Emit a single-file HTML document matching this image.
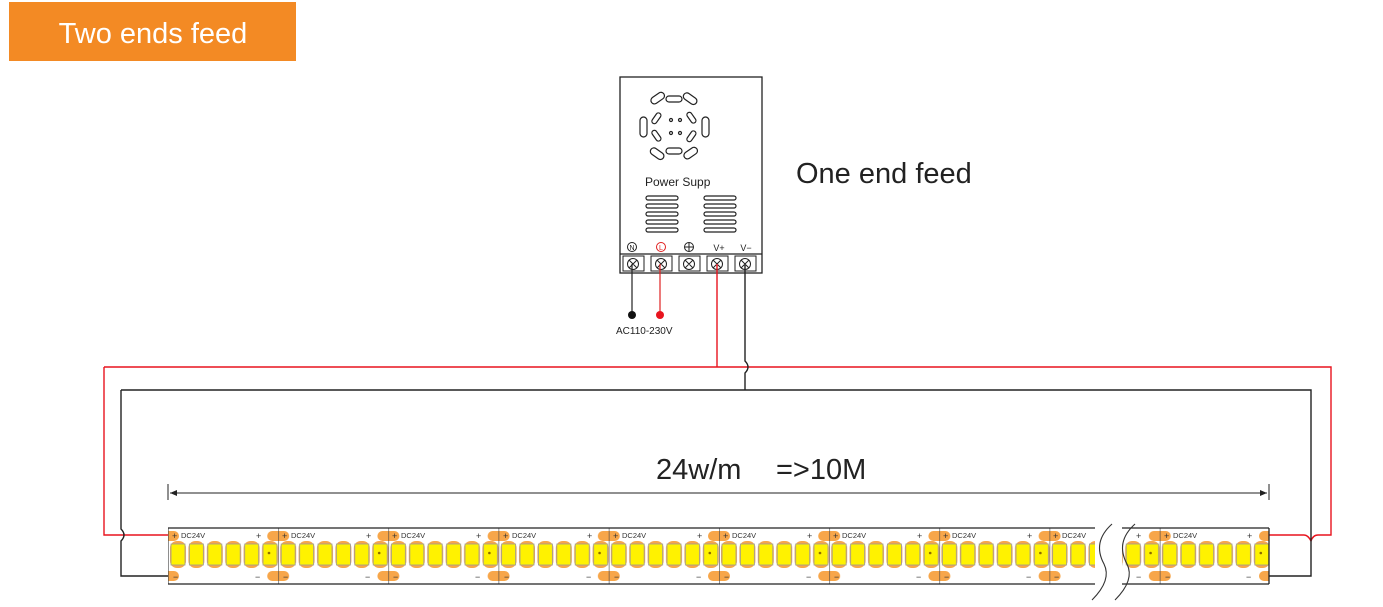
<!DOCTYPE html>
<html><head><meta charset="utf-8"><style>
html,body{margin:0;padding:0;background:#fff;}
svg{display:block;font-family:"Liberation Sans",Arial,sans-serif;}
</style></head><body>
<svg width="1383" height="607" viewBox="0 0 1383 607" xmlns="http://www.w3.org/2000/svg">
<defs>
<pattern id="seg" patternUnits="userSpaceOnUse" x="168" y="528" width="110.2" height="56">
  <rect x="-11" y="3" width="22" height="10" rx="5" fill="#f7a64a"/>
  <rect x="99.2" y="3" width="22" height="10" rx="5" fill="#f7a64a"/>
  <rect x="-11" y="43" width="22" height="10" rx="5" fill="#f7a64a"/>
  <rect x="99.2" y="43" width="22" height="10" rx="5" fill="#f7a64a"/>
  <g fill="#f7a64a">
   <rect x="2" y="13" width="16" height="27" rx="7"/><rect x="20.4" y="13" width="16" height="27" rx="7"/>
   <rect x="38.8" y="13" width="16" height="27" rx="7"/><rect x="57.2" y="13" width="16" height="27" rx="7"/>
   <rect x="75.6" y="13" width="16" height="27" rx="7"/><rect x="94" y="13" width="16" height="27" rx="7"/>
  </g>
  <g fill="#fff200" stroke="#999" stroke-width="0.8">
   <rect x="3" y="16" width="14" height="21"/><rect x="21.4" y="16" width="14" height="21"/>
   <rect x="39.8" y="16" width="14" height="21"/><rect x="58.2" y="16" width="14" height="21"/>
   <rect x="76.6" y="16" width="14" height="21"/><rect x="95" y="16" width="14" height="21"/>
  </g>
  <circle cx="101" cy="25" r="1.3" fill="#8a6a00"/>
  <line x1="0" y1="0" x2="0" y2="56" stroke="#444" stroke-width="1.2"/>
</pattern>
</defs>

<rect x="9" y="2" width="287" height="59" fill="#f38a24"/>
<text x="153" y="43" font-size="29" fill="#fff" text-anchor="middle">Two ends feed</text>

<text x="796" y="183" font-size="29" fill="#222">One end feed</text>

<!-- power supply -->
<rect x="620" y="77" width="142" height="196" fill="#fff" stroke="#222" stroke-width="1.3"/>
<g fill="none" stroke="#222" stroke-width="1.2">
 <rect x="666" y="96" width="16" height="6" rx="3"/>
 <rect x="666" y="148" width="16" height="6" rx="3"/>
 <rect x="640" y="117" width="7" height="20" rx="3.5"/>
 <rect x="702" y="117" width="7" height="20" rx="3.5"/>
 <rect x="650" y="95" width="15" height="7" rx="3.5" transform="rotate(-35 657 98)"/>
 <rect x="683" y="95" width="15" height="7" rx="3.5" transform="rotate(35 690 98)"/>
 <rect x="650" y="150" width="15" height="7" rx="3.5" transform="rotate(35 657 153)"/>
 <rect x="683" y="150" width="15" height="7" rx="3.5" transform="rotate(-35 690 153)"/>
 <rect x="654" y="112" width="5" height="12" rx="2.5" transform="rotate(35 656 118)"/>
 <rect x="689" y="112" width="5" height="12" rx="2.5" transform="rotate(-35 691 118)"/>
 <rect x="654" y="130" width="5" height="12" rx="2.5" transform="rotate(-35 656 136)"/>
 <rect x="689" y="130" width="5" height="12" rx="2.5" transform="rotate(35 691 136)"/>
 <circle cx="671" cy="120" r="1.5"/><circle cx="680" cy="120" r="1.5"/>
 <circle cx="671" cy="133" r="1.5"/><circle cx="680" cy="133" r="1.5"/>
</g>
<text x="645" y="186" font-size="12" fill="#222">Power Supp</text>
<g fill="none" stroke="#222" stroke-width="1.2">
 <rect x="646" y="196" width="32" height="4" rx="2"/><rect x="646" y="204" width="32" height="4" rx="2"/>
 <rect x="646" y="212" width="32" height="4" rx="2"/><rect x="646" y="220" width="32" height="4" rx="2"/>
 <rect x="646" y="228" width="32" height="4" rx="2"/>
 <rect x="704" y="196" width="32" height="4" rx="2"/><rect x="704" y="204" width="32" height="4" rx="2"/>
 <rect x="704" y="212" width="32" height="4" rx="2"/><rect x="704" y="220" width="32" height="4" rx="2"/>
 <rect x="704" y="228" width="32" height="4" rx="2"/>
</g>
<g font-size="9" fill="#222" text-anchor="middle">
 <circle cx="632" cy="247" r="4.5" fill="none" stroke="#222"/><text x="632" y="250" font-size="7">N</text>
 <circle cx="661" cy="247" r="4.5" fill="none" stroke="#e02020"/><text x="661" y="250" font-size="7" fill="#e02020">L</text>
 <circle cx="689" cy="247" r="4.5" fill="none" stroke="#222"/><line x1="689" y1="243" x2="689" y2="251" stroke="#222"/><line x1="685" y1="247" x2="693" y2="247" stroke="#222"/>
 <text x="719" y="251">V+</text><text x="746" y="251">V−</text>
</g>
<line x1="620" y1="254" x2="762" y2="254" stroke="#222" stroke-width="1.2"/>
<g fill="none" stroke="#222" stroke-width="1">
 <rect x="623" y="256" width="21" height="15"/><rect x="651" y="256" width="21" height="15"/>
 <rect x="679" y="256" width="21" height="15"/><rect x="707" y="256" width="21" height="15"/>
 <rect x="735" y="256" width="21" height="15"/>
 <circle cx="633" cy="264" r="5.5"/><circle cx="661" cy="264" r="5.5"/><circle cx="689" cy="264" r="5.5"/>
 <circle cx="717" cy="264" r="5.5"/><circle cx="745" cy="264" r="5.5"/>
 <path d="M629 260l8 8M637 260l-8 8M657 260l8 8M665 260l-8 8M685 260l8 8M693 260l-8 8M713 260l8 8M721 260l-8 8M741 260l8 8M749 260l-8 8"/>
</g>
<line x1="632" y1="264" x2="632" y2="314" stroke="#222" stroke-width="1.2"/>
<line x1="660" y1="264" x2="660" y2="314" stroke="#e02020" stroke-width="1.2"/>
<circle cx="632" cy="315" r="4" fill="#111"/><circle cx="660" cy="315" r="4" fill="#e8141e"/>
<text x="616" y="334" font-size="10" fill="#222">AC110-230V</text>

<!-- wires -->
<g fill="none" stroke-width="1.4">
 <path d="M717 264V367M104 367H1331V535H1318q-5 0 -7 6q-3 -6 -7 -6H1269M104 367V535H168" stroke="#e8141e"/>
 <path d="M745 264V361q6 6 0 12V390M121 390H1311V576H1269M121 390V529q6 6 0 12V576H168" stroke="#222"/>
</g>

<!-- dimension -->
<text x="656" y="479" font-size="29" fill="#222">24w/m</text>
<text x="776" y="479" font-size="29" fill="#222">=&gt;10M</text>
<g stroke="#222" stroke-width="1">
 <line x1="168" y1="484" x2="168" y2="500"/><line x1="1269" y1="484" x2="1269" y2="500"/>
 <line x1="170" y1="493" x2="1267" y2="493"/>
</g>
<path d="M170 493l7-3v6zM1267 493l-7-3v6z" fill="#222"/>

<!-- strip -->
<rect x="168" y="528" width="930" height="56" fill="url(#seg)"/>
<rect x="1120" y="528" width="149" height="56" fill="url(#seg)"/>
<g stroke="#222" stroke-width="1.3">
 <line x1="168" y1="528" x2="1098" y2="528"/><line x1="168" y1="584" x2="1098" y2="584"/>
 <line x1="1118" y1="528" x2="1269" y2="528"/><line x1="1118" y1="584" x2="1269" y2="584"/>
 <line x1="1269" y1="528" x2="1269" y2="584"/>
</g>
<rect x="1095" y="522" width="27" height="66" fill="#fff"/>
<g fill="none" stroke="#333" stroke-width="1.1">
 <path d="M1112 524q-20 18 -8 40q8 16 -12 36"/>
 <path d="M1135 524q-20 18 -8 40q8 16 -12 36"/>
</g>
<g font-size="9" fill="#333">
 <text x="172" y="539">+</text><text x="181" y="538" font-size="7.5">DC24V</text><text x="256" y="539">+</text><text x="173" y="580">−</text><text x="255" y="580">−</text>
 <text x="282" y="539">+</text><text x="291" y="538" font-size="7.5">DC24V</text><text x="366" y="539">+</text><text x="283" y="580">−</text><text x="365" y="580">−</text>
 <text x="392" y="539">+</text><text x="401" y="538" font-size="7.5">DC24V</text><text x="476" y="539">+</text><text x="393" y="580">−</text><text x="475" y="580">−</text>
 <text x="503" y="539">+</text><text x="512" y="538" font-size="7.5">DC24V</text><text x="587" y="539">+</text><text x="504" y="580">−</text><text x="586" y="580">−</text>
 <text x="613" y="539">+</text><text x="622" y="538" font-size="7.5">DC24V</text><text x="697" y="539">+</text><text x="614" y="580">−</text><text x="696" y="580">−</text>
 <text x="723" y="539">+</text><text x="732" y="538" font-size="7.5">DC24V</text><text x="807" y="539">+</text><text x="724" y="580">−</text><text x="806" y="580">−</text>
 <text x="833" y="539">+</text><text x="842" y="538" font-size="7.5">DC24V</text><text x="917" y="539">+</text><text x="834" y="580">−</text><text x="916" y="580">−</text>
 <text x="943" y="539">+</text><text x="952" y="538" font-size="7.5">DC24V</text><text x="1027" y="539">+</text><text x="944" y="580">−</text><text x="1026" y="580">−</text>
 <text x="1053" y="539">+</text><text x="1062" y="538" font-size="7.5">DC24V</text><text x="1054" y="580">−</text>
 <text x="1136" y="539">+</text><text x="1136" y="580">−</text>
 <text x="1164" y="539">+</text><text x="1173" y="538" font-size="7.5">DC24V</text><text x="1247" y="539">+</text><text x="1165" y="580">−</text><text x="1246" y="580">−</text>
</g>
</svg>
</body></html>
